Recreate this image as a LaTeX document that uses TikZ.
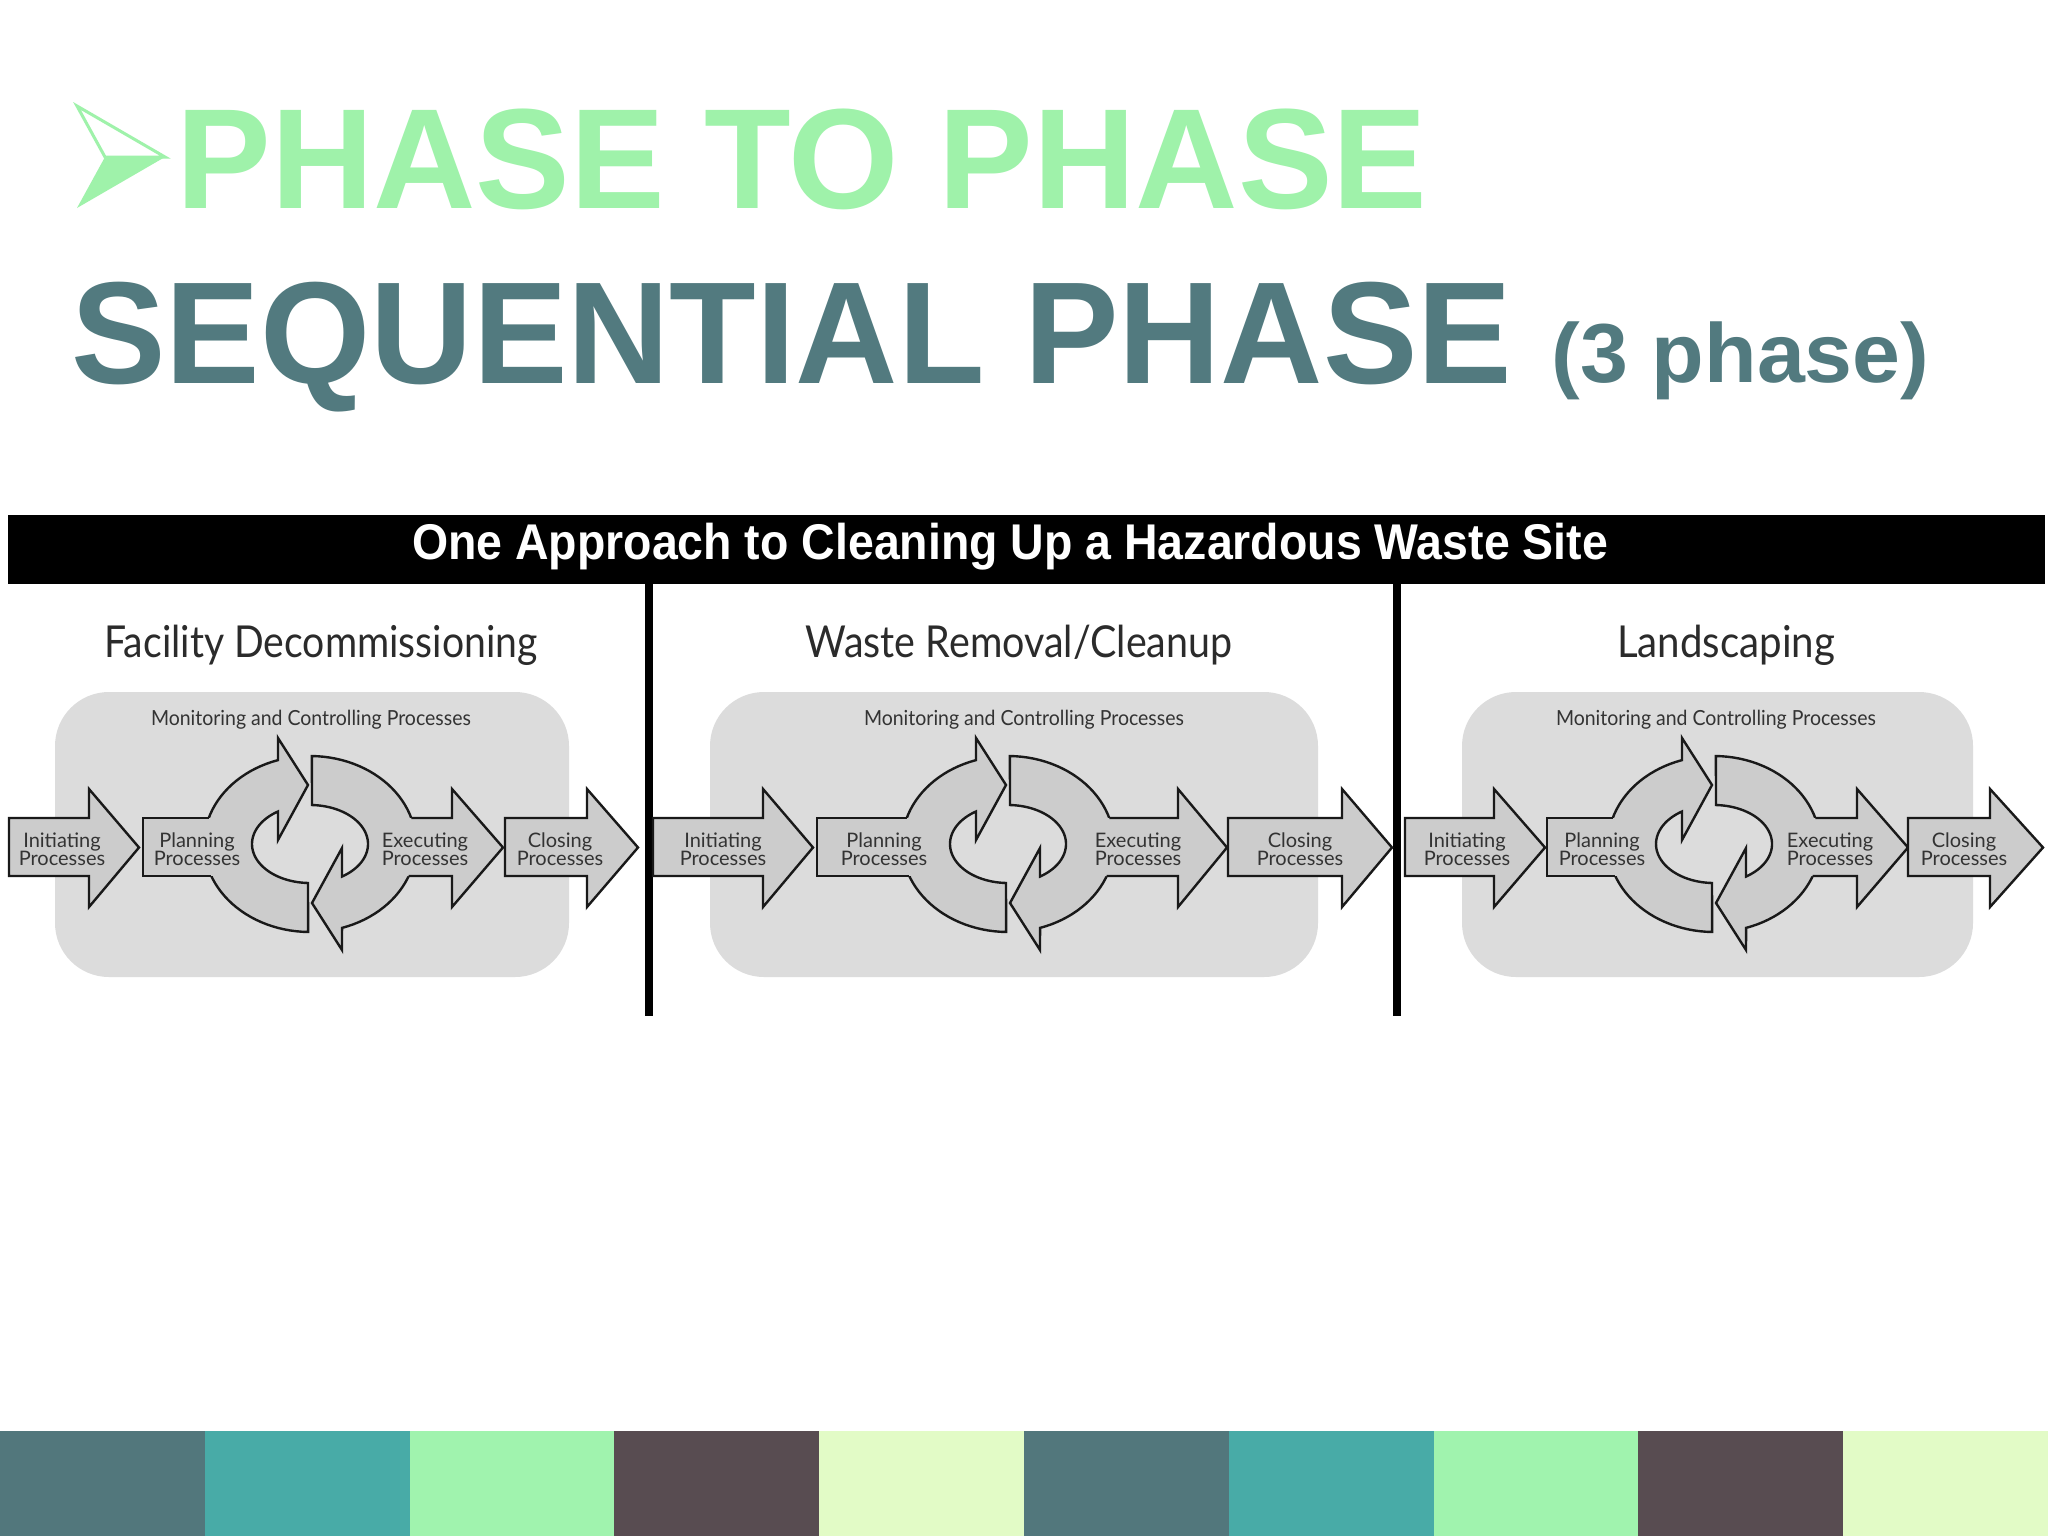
\documentclass[tikz,border=0pt]{standalone}
\usepackage{fontspec}
\usepackage{graphicx}
\setmainfont{Liberation Sans}
\newfontfamily\lato{Lato}
\definecolor{titlegreen}{HTML}{9FF2AA}
\definecolor{titleslate}{HTML}{527A7F}
\definecolor{panelgray}{HTML}{DCDCDC}
\definecolor{arrowgray}{HTML}{CCCCCC}
\definecolor{labelink}{HTML}{333333}
\definecolor{headink}{HTML}{2B2B2B}
\definecolor{stripA}{HTML}{52777C}
\definecolor{stripB}{HTML}{48ABA7}
\definecolor{stripC}{HTML}{A0F3AE}
\definecolor{stripD}{HTML}{584C51}
\definecolor{stripE}{HTML}{E2FBC6}
\begin{document}
\begin{tikzpicture}[x=0.5pt,y=-0.5pt,
  blockarrow/.style={fill=arrowgray, draw=black!90, line width=1.2pt, line join=miter},
  outline/.style={draw=black!90, line width=1.2pt},
  lbl/.style={font=\lato\fontsize{10}{9}\selectfont, align=center, text=labelink, inner sep=0pt},
  monitor/.style={font=\lato\fontsize{10.4}{12}\selectfont, text=labelink, inner sep=0pt, anchor=base},
  heading/.style={font=\lato\fontsize{22}{26}\selectfont, text=headink, inner sep=0pt, anchor=base}]
\useasboundingbox (0,0) rectangle (2048,1536);
\fill[white] (0,0) rectangle (2048,1536);

% ---- title arrow glyph
\filldraw[draw=titlegreen, fill=white, line width=1.5pt, line join=miter] (77,106) -- (165,157) -- (105,157) -- cycle;
\fill[titlegreen] (105,157) -- (165,157) -- (77,208) -- cycle;

% ---- titles
\node[anchor=base west, inner sep=0pt, text=titlegreen, font=\fontsize{71.3}{80}\selectfont\bfseries] (t1) at (176,208) {\resizebox{625.5pt}{\height}{PHASE TO PHASE}};
\node[anchor=base west, inner sep=0pt, text=titleslate, font=\fontsize{72.6}{80}\selectfont\bfseries] (t2) at (71,383) {\resizebox{720.5pt}{\height}{SEQUENTIAL PHASE}};
\node[anchor=base west, inner sep=0pt, text=titleslate, font=\fontsize{41.9}{48}\selectfont\bfseries] (t3) at (1551,382) {\resizebox{189pt}{\height}{(3 phase)}};

% ---- black bar
\fill[black] (8,515) rectangle (2045,584);
\node[anchor=base, inner sep=0pt, text=white, font=\fontsize{25.1}{28}\selectfont\bfseries] (bartitle) at (1010,559) {\resizebox{598pt}{\height}{One Approach to Cleaning Up a Hazardous Waste Site}};

% ---- dividers
\draw[line width=4pt] (649,584) -- (649,1016);
\draw[line width=4pt] (1397,584) -- (1397,1016);

% ---- headings
\node[heading] (h1) at (321,657) {\resizebox{216.5pt}{\height}{Facility Decommissioning}};
\node[heading] (h2) at (1019,657) {\resizebox{213.5pt}{\height}{Waste Removal/Cleanup}};
\node[heading] (h3) at (1726,657) {\resizebox{109pt}{\height}{Landscaping}};

% ---- panels
\foreach \pn/\vIL/\vIH/\vIT/\vPL/\cx/\vEH/\vET/\vCL/\vCH/\vCT/\vGL/\vGR/\vTI/\vTP/\vTE/\vTC/\vTM in {
 1/9/89/139/143/310/452/503/505/587/638/55/569/62/197/425/560/311,
 2/653/763/813/817/1008/1178/1227/1228/1342/1392/710/1318/723/884/1138/1300/1024,
 3/1405/1494/1545/1547/1714/1857/1908/1908/1990/2043/1462/1973/1467/1602/1830/1964/1716}
{
 \fill[panelgray, rounded corners=27pt] (\vGL,692) rectangle (\vGR,977);
 \node[monitor] (mon\pn) at (\vTM,725) {\resizebox{160pt}{\height}{Monitoring and Controlling Processes}};
 % initiating
 \filldraw[blockarrow] (\vIL,818) -- (\vIH,818) -- (\vIH,789) -- (\vIT,847.5) -- (\vIH,907) -- (\vIH,876) -- (\vIL,876) -- cycle;
 % right cycle arc (towards executing)
 \filldraw[blockarrow] plot[domain=-89:72.4, samples=50] ({\cx+106*cos(\x)},{844+88*sin(\x)})
   -- (\cx+32,950) -- (\cx+2,903) -- (\cx+32,848)
   -- plot[domain=56.5:-88, samples=50] ({\cx+58*cos(\x)},{844+39*sin(\x)}) -- cycle;
 % left cycle arc (towards planning)
 \filldraw[blockarrow] plot[domain=91:252.4, samples=50] ({\cx+106*cos(\x)},{844+88*sin(\x)})
   -- (\cx-32,738) -- (\cx-2,785) -- (\cx-32,840)
   -- plot[domain=236.5:92, samples=50] ({\cx+58*cos(\x)},{844+39*sin(\x)}) -- cycle;
 % planning body
 \fill[arrowgray] (\vPL,818) rectangle (\cx-88,876);
 \draw[outline] (\cx-101.3,818) -- (\vPL,818) -- (\vPL,876) -- (\cx-98.7,876);
 % executing body
 \fill[arrowgray] (\cx+88,818) -- (\vEH,818) -- (\vEH,789) -- (\vET,847.5) -- (\vEH,907) -- (\vEH,876) -- (\cx+88,876) -- cycle;
 \draw[outline, line join=miter] (\cx+101.3,818) -- (\vEH,818) -- (\vEH,789) -- (\vET,847.5) -- (\vEH,907) -- (\vEH,876) -- (\cx+98.7,876);
 % closing
 \filldraw[blockarrow] (\vCL,818) -- (\vCH,818) -- (\vCH,789) -- (\vCT,847.5) -- (\vCH,907) -- (\vCH,876) -- (\vCL,876) -- cycle;
 % labels
 \node[lbl] (ini\pn) at (\vTI,849) {Initiating\\Processes};
 \node[lbl] (pla\pn) at (\vTP,849) {Planning\\Processes};
 \node[lbl] (exe\pn) at (\vTE,849) {Executing\\Processes};
 \node[lbl] (clo\pn) at (\vTC,849) {Closing\\Processes};
}

% ---- colour strip
\foreach \i/\c in {0/stripA,1/stripB,2/stripC,3/stripD,4/stripE,5/stripA,6/stripB,7/stripC,8/stripD,9/stripE}
 \fill[\c] ({\i*204.8},1431) rectangle ({(\i+1)*204.8},1536);
\end{tikzpicture}
\end{document}
